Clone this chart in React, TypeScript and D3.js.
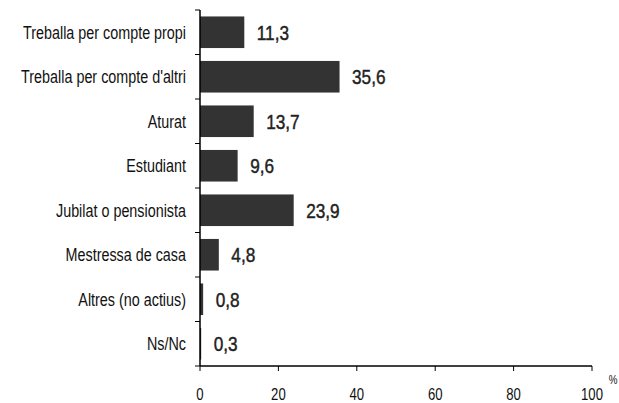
import React from "react";
import * as d3 from "d3";

const categories = [
  "Treballa per compte propi",
  "Treballa per compte d'altri",
  "Aturat",
  "Estudiant",
  "Jubilat o pensionista",
  "Mestressa de casa",
  "Altres (no actius)",
  "Ns/Nc",
];
const values = [11.3, 35.6, 13.7, 9.6, 23.9, 4.8, 0.8, 0.3];
const xTicks = [0, 20, 40, 60, 80, 100];

const W = 619;
const H = 403;
const left = 200;
const right = 592;
const top = 10;
const bottom = 366;
const font = "'Liberation Sans Narrow', 'Arial Narrow', 'Liberation Sans', Arial, sans-serif";
const sx = 0.82;

function NText(props: {
  x: number;
  y: number;
  size: number;
  anchor?: string;
  children: React.ReactNode;
  fill?: string;
  dy?: string;
  stroke?: number;
}) {
  return (
    <text
      transform={`translate(${props.x},${props.y}) scale(${sx},1)`}
      dy={props.dy}
      fontSize={props.size}
      textAnchor={props.anchor || "start"}
      fill={props.fill || "#111"}
      stroke={props.stroke ? props.fill || "#111" : "none"}
      strokeWidth={props.stroke || 0}
    >
      {props.children}
    </text>
  );
}

export default function App() {
  const x = d3.scaleLinear().domain([0, 100]).range([left, right]);
  const y = d3.scaleBand<string>().domain(categories).range([top, bottom]).paddingInner(0.29).paddingOuter(0.145);
  const band = d3.scaleBand<string>().domain(categories).range([top, bottom]);
  const fmt = (v: number) => v.toFixed(1).replace(".", ",");
  const boundaries = categories.map((c) => band(c)!).concat([bottom]);
  return (
    <svg width={W} height={H} style={{ position: "absolute", left: 0, top: 0, background: "#fff" }} fontFamily={font}>
      {categories.map((c, i) => {
        const cy = band(c)! + band.bandwidth() / 2;
        return (
          <g key={c}>
            <rect x={x(0)} y={y(c)!} width={x(values[i]) - x(0)} height={y.bandwidth()} fill="#333333" />
            <NText x={x(values[i]) + 12.5} y={cy} dy="0.36em" size={21} fill="#222" stroke={0.45}>
              {fmt(values[i])}
            </NText>
            <NText x={186} y={cy} dy="0.36em" size={17.5} anchor="end">
              {c}
            </NText>
          </g>
        );
      })}
      <line x1={left} x2={left} y1={top} y2={bottom} stroke="#000" strokeWidth={1.5} />
      {boundaries.map((b, i) => (
        <line key={i} x1={left - 5} x2={left} y1={b} y2={b} stroke="#000" strokeWidth={1} />
      ))}
      <line x1={left} x2={right} y1={bottom} y2={bottom} stroke="#000" strokeWidth={1.5} />
      {xTicks.map((t) => (
        <g key={t}>
          <line x1={x(t)} x2={x(t)} y1={bottom} y2={bottom + 5} stroke="#000" strokeWidth={1} />
          <NText x={x(t)} y={400} anchor="middle" size={16}>
            {t}
          </NText>
        </g>
      ))}
      <NText x={613} y={380} dy="0.36em" anchor="middle" size={12}>
        %
      </NText>
    </svg>
  );
}
